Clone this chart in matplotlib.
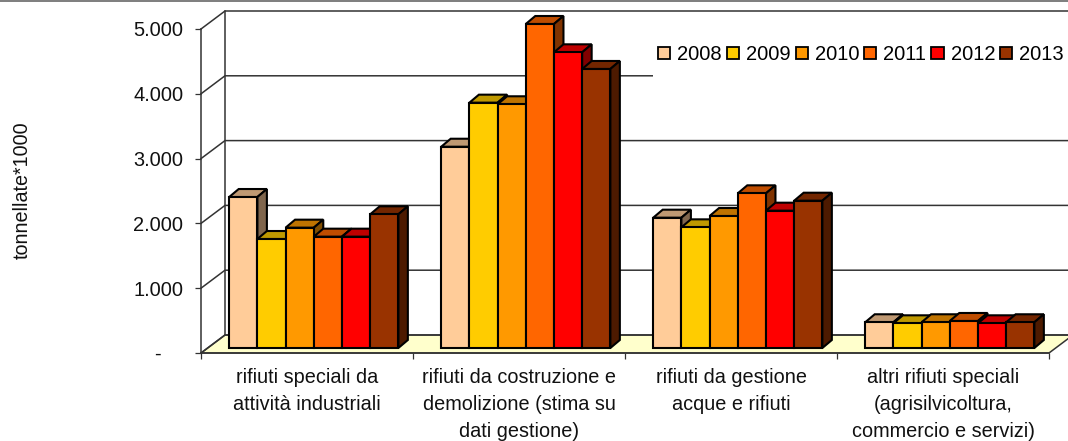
import matplotlib.pyplot as plt
import numpy as np
from matplotlib.patches import Polygon, Rectangle

plt.rcParams['font.family'] = ['Liberation Sans', 'DejaVu Sans']

categorie = ['rifiuti speciali da\nattività industriali',
             'rifiuti da costruzione e\ndemolizione (stima su\ndati gestione)',
             'rifiuti da gestione\nacque e rifiuti',
             'altri rifiuti speciali\n(agrisilvicoltura,\ncommercio e servizi)']
anni = ['2008', '2009', '2010', '2011', '2012', '2013']
v2008 = [2330, 3106, 2011, 397]
v2009 = [1682, 3786, 1862, 381]
v2010 = [1857, 3761, 2037, 397]
v2011 = [1718, 5000, 2387, 417]
v2012 = [1718, 4563, 2119, 381]
v2013 = [2063, 4306, 2273, 397]
serie = [v2008, v2009, v2010, v2011, v2012, v2013]
colori = ['#ffcc99', '#ffcc00', '#ff9900', '#ff6600', '#ff0000', '#993300']
yticks = [0, 1000, 2000, 3000, 4000, 5000]
ylabels = ['-    ', '1.000', '2.000', '3.000', '4.000', '5.000']

W, H = 1068, 441
fig = plt.figure(figsize=(W / 100, H / 100), dpi=100)
ax = fig.add_axes([201 / W, 1 - 353 / H, 848 / W, 324 / H])
ax.set_xlim(0, 4)
ax.set_ylim(0, 5000)
ax.patch.set_visible(False)

# un pixel in unita' dati
ux = 4 / 848
uy = 5000 / 324
wall_x, wall_y = 24 * ux, 18 * uy   # profondita' del fondo
dep_x, dep_y = 9.5 * ux, 8 * uy     # profondita' delle barre
base = 5 * uy
col_line = '#333333'
lw_bar = 1.5


def scura(c, f):
    r, g, b = plt.matplotlib.colors.to_rgb(c)
    return (r * f, g * f, b * f)


# pavimento e griglia
ax.add_patch(Polygon([(0, 0), (wall_x, wall_y), (4 + wall_x, wall_y), (4, 0)],
                     fc='#ffffcc', ec=col_line, lw=1.1, clip_on=False, zorder=1))
for t in yticks:
    ax.plot([0, wall_x, 4 + wall_x], [t, t + wall_y, t + wall_y], color=col_line,
            lw=1.1, clip_on=False, zorder=1.5)
ax.plot([wall_x, wall_x], [wall_y, 5000 + wall_y], color=col_line, lw=1.1,
        clip_on=False, zorder=1.5)

# box bianco della legenda, copre la griglia
ax.add_patch(Rectangle((452 / 848, (353 - 80) / 324), 420 / 848, 46 / 324, transform=ax.transAxes,
                       fc='white', ec='none', clip_on=False, zorder=2))

bar_w = 1 / 7.52
off = 28.2 * ux
handles = []
x0 = np.arange(4)
for i, (nome, vals, c) in enumerate(zip(anni, serie, colori)):
    xs = x0 + off + i * bar_w
    z = 3 + i
    bars = ax.bar(xs, vals, bar_w, bottom=base, align='edge', color=c, edgecolor='black',
                  linewidth=lw_bar, clip_on=False, zorder=z + 0.5, label=nome)
    handles.append(bars)
    for x, v in zip(xs, vals):
        top = base + v
        ax.add_patch(Polygon([(x, top), (x + dep_x, top + dep_y), (x + bar_w + dep_x, top + dep_y), (x + bar_w, top)],
                             fc=scura(c, 0.75), ec='black', lw=lw_bar, clip_on=False, zorder=z))
        ax.add_patch(Polygon([(x + bar_w, base), (x + bar_w + dep_x, base + dep_y), (x + bar_w + dep_x, top + dep_y), (x + bar_w, top)],
                             fc=scura(c, 0.5), ec='black', lw=lw_bar, clip_on=False, zorder=z))

for s in ['top', 'right']:
    ax.spines[s].set_visible(False)
for s in ['left', 'bottom']:
    ax.spines[s].set_color(col_line)
    ax.spines[s].set_linewidth(1.1)

ax.set_yticks(yticks)
ax.set_yticklabels(ylabels, fontsize=14.4, color='#111111')
ax.tick_params(axis='y', length=4.3, width=0.9, color=col_line, pad=8.5)
ax.set_xticks(np.arange(5))
ax.set_xticklabels([])
ax.tick_params(axis='x', which='major', length=4.3, width=0.9, color=col_line)
ax.set_xticks(x0 + 0.5, minor=True)
ax.set_xticklabels(categorie, minor=True, fontsize=14.3, linespacing=1.56, color='#111111')
ax.tick_params(axis='x', which='minor', length=0, pad=10.5)

fig.text(22.5 / W, 1 - 190 / H, 'tonnellate*1000', rotation=90, ha='center', va='center',
         fontsize=14.2, color='#111111')

leg = ax.legend(handles, anni, ncol=6, frameon=False, fontsize=14.5, loc='upper left',
                bbox_to_anchor=(654 / W, 1 - 41 / H), bbox_transform=fig.transFigure,
                handlelength=0.6, handleheight=0.6, handletextpad=0.35, columnspacing=0.25,
                borderpad=0.2, borderaxespad=0)
leg.set_zorder(20)
for h in leg.legend_handles:
    h.set_linewidth(1.3)

# filetto grigio in alto
fig.add_artist(Rectangle((0, 1 - 2 / H), 1, 2 / H, transform=fig.transFigure, fc='#808080', ec='none'))

plt.savefig('out.png', dpi=100)
